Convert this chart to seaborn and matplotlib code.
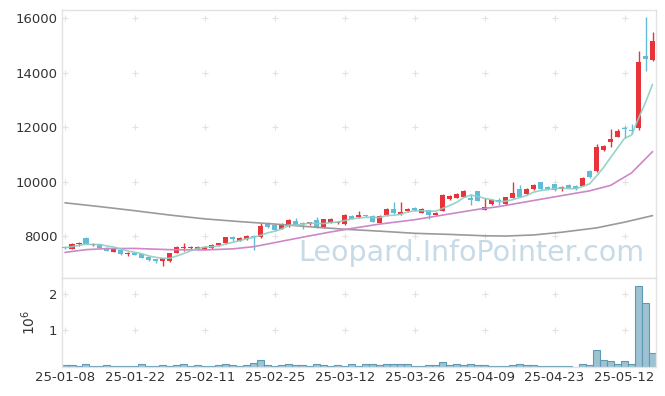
import matplotlib
matplotlib.use("Agg")
import matplotlib.pyplot as plt
import numpy as np
import pandas as pd
import seaborn as sns

# daily candles, index 0 = 25-01-08 ... 84 = 25-05-16
opens = [7590, 7530, 7700, 7930, 7670, 7700, 7570, 7420, 7480, 7350,
         7340, 7330, 7220, 7150, 7080, 7080, 7390, 7570, 7560, 7540,
         7490, 7570, 7660, 7730, 7980, 7830, 7890, 8000, 7980, 8480,
         8400, 8270, 8370, 8540, 8470, 8430, 8590, 8320, 8490, 8470,
         8430, 8750, 8710, 8760, 8740, 8490, 8770, 8980, 8810, 8910,
         9040, 8860, 8940, 8780, 8930, 9360, 9400, 9450, 9400, 9650,
         8970, 9160, 9330, 9160, 9410, 9730, 9530, 9720, 9980, 9810,
         9900, 9740, 9890, 9840, 9850, 10400, 10380, 11160, 11460, 11650,
         11960, 11880, 11960, 14610, 14470]
closes = [7560, 7720, 7730, 7710, 7710, 7570, 7460, 7530, 7330, 7370,
          7320, 7200, 7120, 7080, 7180, 7360, 7600, 7590, 7580, 7600,
          7610, 7670, 7730, 7950, 7890, 7930, 8020, 7950, 8370, 8320,
          8230, 8450, 8590, 8420, 8450, 8500, 8320, 8610, 8610, 8530,
          8770, 8630, 8780, 8720, 8530, 8750, 8990, 8830, 8890, 8990,
          8940, 8990, 8780, 8860, 9510, 9480, 9550, 9650, 9320, 9300,
          9080, 9340, 9250, 9420, 9590, 9450, 9730, 9870, 9720, 9730,
          9680, 9800, 9780, 9720, 10120, 10160, 11270, 11310, 11560, 11870,
          11940, 11860, 14380, 14490, 15170]
highs = [7620, 7750, 7770, 7960, 7740, 7720, 7590, 7560, 7500, 7420,
         7380, 7350, 7240, 7170, 7200, 7380, 7650, 7740, 7640, 7630,
         7640, 7700, 7760, 7980, 8010, 7960, 8050, 8030, 8490, 8500,
         8420, 8480, 8620, 8650, 8500, 8530, 8710, 8640, 8650, 8560,
         8800, 8770, 8910, 8790, 8760, 8780, 9020, 9260, 9245, 9030,
         9060, 9020, 8960, 8890, 9540, 9510, 9580, 9680, 9540, 9670,
         9380, 9370, 9410, 9450, 9980, 9870, 9760, 9900, 10000, 9830,
         9920, 9830, 9910, 9860, 10150, 10430, 11390, 11340, 11940, 11940,
         12050, 12100, 14780, 16060, 15490]
lows = [7530, 7510, 7620, 7690, 7640, 7550, 7440, 7400, 7310, 7270,
        7290, 7180, 7100, 7000, 6910, 7060, 7370, 7460, 7500, 7520,
        7470, 7540, 7640, 7710, 7800, 7810, 7870, 7490, 7920, 8300,
        8200, 8250, 8350, 8400, 8250, 8410, 8300, 8300, 8470, 8450,
        8410, 8610, 8650, 8700, 8510, 8470, 8750, 8810, 8790, 8890,
        8920, 8840, 8620, 8760, 8910, 9340, 9380, 9430, 9140, 9280,
        8950, 9140, 9130, 9140, 9390, 9430, 9510, 9700, 9700, 9710,
        9660, 9650, 9760, 9700, 9830, 10130, 10350, 11140, 11260, 11630,
        11600, 11750, 11900, 14060, 14430]
# volume, millions of shares
volumes = [0.035, 0.035, 0.01, 0.075, 0.01, 0.01, 0.035, 0.01, 0.01, 0.01,
           0.01, 0.075, 0.01, 0.01, 0.035, 0.01, 0.035, 0.075, 0.01, 0.035,
           0.01, 0.01, 0.035, 0.075, 0.035, 0.01, 0.035, 0.09, 0.19, 0.035,
           0.01, 0.035, 0.065, 0.035, 0.035, 0.01, 0.065, 0.035, 0.01, 0.035,
           0.01, 0.08, 0.03, 0.065, 0.065, 0.04, 0.065, 0.065, 0.065, 0.065,
           0.01, 0.01, 0.04, 0.04, 0.12, 0.04, 0.065, 0.04, 0.065, 0.04,
           0.04, 0.01, 0.01, 0.01, 0.04, 0.065, 0.04, 0.04, 0.01, 0.01,
           0.01, 0.01, 0.01, 0.0, 0.065, 0.04, 0.45, 0.175, 0.15, 0.065,
           0.15, 0.065, 2.21, 1.745, 0.37]

# moving averages
ma5 = [7570, 7610, 7660, 7700, 7686, 7688, 7636, 7596, 7520, 7452,
       7402, 7350, 7268, 7218, 7180, 7188, 7268, 7362, 7462, 7546,
       7596, 7610, 7638, 7712, 7770, 7834, 7904, 7948, 8032, 8118,
       8178, 8264, 8392, 8402, 8428, 8482, 8456, 8460, 8498, 8514,
       8568, 8630, 8664, 8686, 8686, 8682, 8754, 8764, 8798, 8890,
       8928, 8928, 8918, 8912, 9016, 9124, 9236, 9410, 9502, 9460,
       9380, 9338, 9258, 9278, 9336, 9410, 9488, 9612, 9672, 9700,
       9746, 9760, 9742, 9742, 9820, 9916, 10210, 10516, 10884, 11234,
       11590, 11708, 12322, 12908, 13568]
ma20_x = [0, 3, 6, 10, 15, 20, 24, 27, 30, 34, 38, 41, 45, 50, 54, 59, 62, 66, 70, 75, 78, 81, 84]
ma20 = [7400, 7500, 7540, 7545, 7500, 7490, 7530, 7610, 7760, 7960, 8150, 8280,
        8440, 8600, 8770, 8980, 9080, 9260, 9440, 9660, 9860, 10320, 11100]
ma60_x = [0, 5, 10, 15, 20, 25, 30, 35, 40, 45, 50, 55, 60, 63, 67, 71, 76, 80, 84]
ma60 = [9220, 9080, 8930, 8770, 8630, 8530, 8440, 8340, 8250, 8180, 8100,
        8060, 8010, 8000, 8040, 8140, 8300, 8510, 8750]

tick_pos = [0, 10, 20, 30, 40, 50, 60, 70, 80]
tick_labels = ["25-01-08", "25-01-22", "25-02-11", "25-02-25", "25-03-12",
               "25-03-26", "25-04-09", "25-04-23", "25-05-12"]

df = pd.DataFrame({"open": opens, "close": closes, "high": highs,
                   "low": lows, "volume": volumes, "ma5": ma5})
df["idx"] = np.arange(len(df))

sns.set_theme(style="white")
plt.rcParams["font.family"] = ["DejaVu Sans"]

UP = "#e8333b"
DOWN = "#62bcd7"
EDGE = "#e3e3e3"
CROSS = "#e2e2e2"

fig = plt.figure(figsize=(6.65, 3.96), dpi=100)
ax = fig.add_axes([0.0925, 0.2987, 0.894, 0.676])
axv = fig.add_axes([0.0925, 0.074, 0.894, 0.2232])

# candles
up = df["close"] >= df["open"]
cols = np.where(up, UP, DOWN)
body_lo = df[["open", "close"]].min(axis=1)
body_h = (df["close"] - df["open"]).abs().clip(lower=45)
ax.vlines(df["idx"], df["low"], df["high"], colors=cols, linewidth=1.0, zorder=2)
ax.bar(df["idx"], body_h, bottom=body_lo, width=0.72, color=cols,
       linewidth=0, zorder=3)

# moving averages
sns.lineplot(x=ma60_x, y=ma60, color="#9a9a9a", linewidth=1.2, ax=ax, zorder=4)
sns.lineplot(x=ma20_x, y=ma20, color="#cc88c8", linewidth=1.2, ax=ax, zorder=4)
sns.lineplot(x=df["idx"], y=df["ma5"], color="#8ccfc4", linewidth=1.2,
             alpha=0.9, ax=ax, zorder=4)

ax.text(0.981, 0.092, "Leopard.InfoPointer.com", transform=ax.transAxes,
        ha="right", va="center", fontsize=20.5, color="#c7dae7", zorder=1)

ax.set_xlim(-0.5, 84.5)
ax.set_ylim(6470, 16300)
yt = [8000, 10000, 12000, 14000, 16000]
ax.set_yticks(yt)
ax.set_xticks(tick_pos)
ax.set_xticklabels([])
for xt in tick_pos:
    for y in yt:
        ax.plot(xt, y, marker="+", color=CROSS, ms=4, mew=0.8, zorder=0)

# volume
sns.barplot(x=df["idx"], y=df["volume"], native_scale=True, width=1.0,
            color="#9dc3d3", edgecolor="#5f9ab5", linewidth=0.8,
            saturation=1, errorbar=None, ax=axv)
axv.set_xlim(-0.5, 84.5)
axv.set_ylim(0, 2.43)
axv.set_yticks([1, 2])
axv.set_yticklabels(["1", "2"])
axv.set_xticks(tick_pos)
axv.set_xticklabels(tick_labels)
axv.set_xlabel("")
axv.set_ylabel(r"$10^6$", fontsize=10, color="#333333", labelpad=8)
for xt in tick_pos:
    for y in [1, 2]:
        axv.plot(xt, y, marker="+", color=CROSS, ms=4, mew=0.8, zorder=0)

for a in (ax, axv):
    a.tick_params(length=0, labelsize=9.5, labelcolor="#333333", pad=3)
    for s in a.spines.values():
        s.set_color(EDGE)
        s.set_linewidth(1.0)
ax.set_xlabel("")
ax.set_ylabel("")

fig.savefig("out.png", dpi=100)
